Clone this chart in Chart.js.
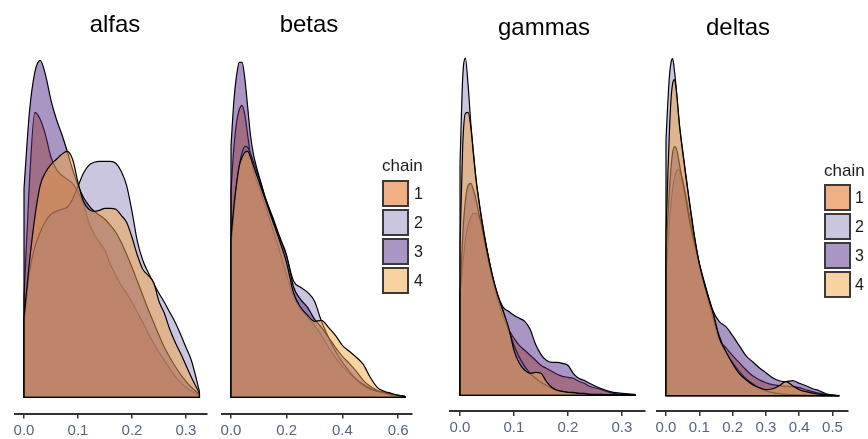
<!DOCTYPE html>
<html>
<head>
<meta charset="utf-8">
<script src="https://cdn.jsdelivr.net/npm/chart.js@4.4.1/dist/chart.umd.min.js"></script>
<style>
  body { margin: 0; background: #fff; }
  #fig { position: relative; width: 868px; height: 439px; overflow: hidden;
         font-family: "Liberation Sans", Arial, sans-serif; background: #fff; }
  #fig canvas { position: absolute; top: 0; }
  .ttl { position: absolute; font-size: 24px; line-height: 24px; color: #000;
         transform: translateX(-50%); white-space: nowrap; }
  .leg-head { position: absolute; font-size: 17px; line-height: 17px; color: #1a1a1a; white-space: nowrap; }
  .leg-box { position: absolute; width: 27px; height: 27px; box-sizing: border-box; border: 2px solid #3a3a3a; }
  .leg-lab { position: absolute; font-size: 16px; line-height: 16px; color: #1a1a1a; }
</style>
</head>
<body>
<div id="fig"></div>
<script>
// Chain labels and fill colours (semi-transparent, as in overlaid density plots)
const chainNames = ['1', '2', '3', '4'];
const chainFills = ['rgba(225,97,7,0.5)', 'rgba(151,141,193,0.5)', 'rgba(83,45,137,0.5)', 'rgba(241,165,65,0.5)'];

// ---- alfas: kernel density per chain (relative height) ----
const alfasX = [0, 0.01, 0.02, 0.03, 0.04, 0.05, 0.06, 0.07, 0.08, 0.09, 0.1, 0.11, 0.12, 0.13, 0.14, 0.15, 0.16, 0.17, 0.18, 0.19, 0.2, 0.21, 0.22, 0.23, 0.24, 0.25, 0.26, 0.27, 0.28, 0.29, 0.3, 0.31, 0.325];
const alfasChain1 = [100,215,285,278,262,240,228,222,218,214,205,193,175,163,155,147,133,122,112,104,95,85,75,64,54,45,37,29,21,15,10,6,2];
const alfasChain2 = [75,125,150,165,176,183,186,188,190,198,211,224,232,235,236,236,236,234,226,212,186,156,137,125,114,104,95,85,75,63,50,37,6];
const alfasChain3 = [209,285,325,337,322,297,278,263,246,228,212,200,192,186,182,178,172,165,155,143,130,116,102,88,75,62,50,40,31,23,16,10,3];
const alfasChain4 = [80,135,180,212,225,233,238,243,246,238,215,196,188,186,187,189,189,188,182,175,160,142,128,122,115,96,84,68,55,44,32,20,4];
const alfasTicks = [0, 0.1, 0.2, 0.3];

// ---- betas ----
const betasX = [0, 0.01, 0.02, 0.03, 0.04, 0.05, 0.06, 0.07, 0.08, 0.09, 0.1, 0.125, 0.15, 0.175, 0.2, 0.225, 0.25, 0.275, 0.3, 0.325, 0.35, 0.375, 0.4, 0.425, 0.45, 0.475, 0.5, 0.525, 0.55, 0.575, 0.6, 0.625];
const betasChain1 = [207,248,275,288,292,282,262,242,228,218,210,190,168,146,122,100,88,80,72,62,50,40,31,24,18,13,9,6,4,2,1,0.5];
const betasChain2 = [150,185,212,232,245,251,250,244,236,228,220,198,180,160,140,116,110,105,96,76,60,46,35,26,18,12,8,6,5,3,2,1];
const betasChain3 = [251,295,322,335,335,318,290,262,244,232,222,198,178,160,142,110,98,90,78,70,60,50,41,34,26,17,11,7,5,3,2,1];
const betasChain4 = [160,190,214,232,240,245,246,240,232,224,216,196,176,156,134,104,90,82,76,77,70,62,52,46,40,33,20,10,6,4,2,1];
const betasTicks = [0, 0.2, 0.4, 0.6];

// ---- gammas ----
const gammasX = [0, 0.005, 0.01, 0.015, 0.02, 0.025, 0.03, 0.035, 0.04, 0.05, 0.06, 0.07, 0.08, 0.09, 0.1, 0.11, 0.12, 0.13, 0.14, 0.15, 0.16, 0.17, 0.18, 0.19, 0.2, 0.21, 0.22, 0.23, 0.24, 0.26, 0.28, 0.3, 0.325];
const gammasChain1 = [102,130,155,170,178,182,182,178,170,145,118,95,78,66,57,50,45,40,35,30,27,24,21,19,18,17,14,12,9,6,2.5,1,0.3];
const gammasChain2 = [232,318,337,310,272,242,215,195,177,146,120,100,84,66,50,38,29,22,17,13,10,7,5,4,3,2,2,1,1,0.5,0.3,0.2,0];
const gammasChain3 = [100,160,195,210,212,205,195,182,170,142,118,100,88,84,80,77,74,66,51,41,35,33,33,32,30,22,17,15,12,7,3.5,2,1];
const gammasChain4 = [150,250,282,283,268,240,214,194,176,145,120,100,84,68,45,32,25,22,23,22,14,8,5,4,3,3,2,2,1,1,0.5,0.3,0];
const gammasTicks = [0, 0.1, 0.2, 0.3];

// ---- deltas ----
const deltasX = [0, 0.005, 0.01, 0.015, 0.02, 0.025, 0.03, 0.035, 0.04, 0.05, 0.06, 0.07, 0.08, 0.09, 0.1, 0.12, 0.14, 0.16, 0.18, 0.2, 0.22, 0.24, 0.26, 0.28, 0.3, 0.32, 0.34, 0.36, 0.38, 0.4, 0.42, 0.44, 0.46, 0.48, 0.5, 0.52];
const deltasChain1 = [120,145,172,192,207,217,223,226,225,216,200,182,164,148,132,104,78,56,48,40,33,26,20,16,13,11,10,9.5,9,8,6,4,2.5,1,0.3,0];
const deltasChain2 = [256,290,318,333,337,326,310,290,272,245,220,195,172,150,132,106,84,60,44,33,24,17,12,8,5,3,2,1.5,1,0.8,0.5,0.3,0.2,0.1,0,0];
const deltasChain3 = [140,175,205,228,243,249,248,242,232,214,196,176,160,146,132,108,86,74,69,60,50,40,34,28,23,18,15,14,15,12.5,10,7,5,2,0.8,0.2];
const deltasChain4 = [162,215,262,296,312,316,308,292,272,244,218,194,170,150,132,106,84,58,44,32,22,16,11,8,6,7,10,14,10,6,4,2.5,1.5,0.8,0.3,0];
const deltasTicks = [0, 0.1, 0.2, 0.3, 0.4, 0.5];

// Panel layout (pixel placement of each small chart)
const panels = [
  { title: 'alfas',  xs: alfasX,  chains: [alfasChain1, alfasChain2, alfasChain3, alfasChain4], ticks: alfasTicks,
    left: 0,   width: 215, padL: 15, padR: 8,  xMin: -0.0167, xMax: 0.339,  axisY: 413.5, baseY: 397.3, titleX: 115, titleBase: 32 },
  { title: 'betas',  xs: betasX,  chains: [betasChain1, betasChain2, betasChain3, betasChain4], ticks: betasTicks,
    left: 215, width: 219, padL: 7,  padR: 22, xMin: -0.0323, xMax: 0.65,   axisY: 413.5, baseY: 397.3, titleX: 309, titleBase: 32 },
  { title: 'gammas', xs: gammasX, chains: [gammasChain1, gammasChain2, gammasChain3, gammasChain4], ticks: gammasTicks,
    left: 440, width: 210, padL: 10, padR: 5,  xMin: -0.0186, xMax: 0.343,  axisY: 411,   baseY: 395.3, titleX: 544, titleBase: 35 },
  { title: 'deltas', xs: deltasX, chains: [deltasChain1, deltasChain2, deltasChain3, deltasChain4], ticks: deltasTicks,
    left: 650, width: 218, padL: 7,  padR: 20, xMin: -0.027,  xMax: 0.5465, axisY: 411,   baseY: 395.7, titleX: 738, titleBase: 35 }
];

const legends = [
  { left: 382, headTop: 157, boxTops: [180, 209, 238, 267], labLeft: 414 },
  { left: 824, headTop: 162, boxTops: [184, 213, 242, 271], labLeft: 855 }
];

const CHART_H = 439;
const PLOT_TOP = 40;

// Closes each density polygon: vertical edges at both ends and the zero line
const densityEdges = {
  id: 'densityEdges',
  afterDatasetDraw(chart, args) {
    const pts = args.meta.data;
    if (!pts.length) return;
    const ctx = chart.ctx;
    const y0 = chart.scales.y.getPixelForValue(0);
    const a = pts[0], b = pts[pts.length - 1];
    ctx.save();
    ctx.strokeStyle = '#000';
    ctx.lineWidth = 1.2;
    ctx.beginPath();
    ctx.moveTo(a.x, a.y);
    ctx.lineTo(a.x, y0);
    ctx.lineTo(b.x, y0);
    ctx.lineTo(b.x, b.y);
    ctx.stroke();
    ctx.restore();
  }
};

const fig = document.getElementById('fig');

panels.forEach(p => {
  const cv = document.createElement('canvas');
  cv.width = p.width; cv.height = CHART_H;
  cv.style.left = p.left + 'px';
  cv.style.width = p.width + 'px'; cv.style.height = CHART_H + 'px';
  fig.appendChild(cv);

  const yMin = -(p.axisY - p.baseY);
  const yMax = p.baseY - PLOT_TOP;

  const datasets = p.chains.map((vals, i) => ({
    label: chainNames[i],
    data: p.xs.map((x, k) => ({ x: x, y: vals[k] })),
    backgroundColor: chainFills[i],
    borderColor: '#000',
    borderWidth: 1.2,
    pointRadius: 0,
    fill: 'origin',
    cubicInterpolationMode: 'monotone',
    order: p.chains.length - i   // chain 1 painted first, chain 4 on top
  }));

  new Chart(cv, {
    type: 'line',
    data: { datasets },
    plugins: [densityEdges],
    options: {
      responsive: false,
      animation: false,
      devicePixelRatio: 1,
      layout: { padding: { top: PLOT_TOP, left: p.padL, right: p.padR, bottom: 0 } },
      plugins: { legend: { display: false }, tooltip: { enabled: false }, title: { display: false } },
      scales: {
        x: {
          type: 'linear',
          min: p.xMin, max: p.xMax,
          afterBuildTicks: s => { s.ticks = p.ticks.map(v => ({ value: v })); },
          afterFit: s => { s.height = CHART_H - p.axisY; },
          border: { display: true, color: '#333', width: 2 },
          grid: { display: true, drawOnChartArea: false, drawTicks: true, tickLength: 5, color: '#333', lineWidth: 1.5 },
          ticks: {
            padding: 3,
            color: '#56657d',
            font: { family: '"Liberation Sans", Arial, sans-serif', size: 15 },
            maxRotation: 0,
            callback: v => Number(v).toFixed(1)
          }
        },
        y: { display: false, min: yMin, max: yMax }
      }
    }
  });

  const t = document.createElement('div');
  t.className = 'ttl';
  t.textContent = p.title;
  t.style.left = p.titleX + 'px';
  t.style.top = (p.titleBase - 20.3) + 'px';
  fig.appendChild(t);
});

// Chain legends
legends.forEach(L => {
  const h = document.createElement('div');
  h.className = 'leg-head';
  h.textContent = 'chain';
  h.style.left = L.left + 'px';
  h.style.top = L.headTop + 'px';
  fig.appendChild(h);
  chainNames.forEach((name, i) => {
    const b = document.createElement('div');
    b.className = 'leg-box';
    b.style.left = L.left + 'px';
    b.style.top = L.boxTops[i] + 'px';
    b.style.background = chainFills[i];
    fig.appendChild(b);
    const lab = document.createElement('div');
    lab.className = 'leg-lab';
    lab.textContent = name;
    lab.style.left = L.labLeft + 'px';
    lab.style.top = (L.boxTops[i] + 6) + 'px';
    fig.appendChild(lab);
  });
});
</script>
</body>
</html>
